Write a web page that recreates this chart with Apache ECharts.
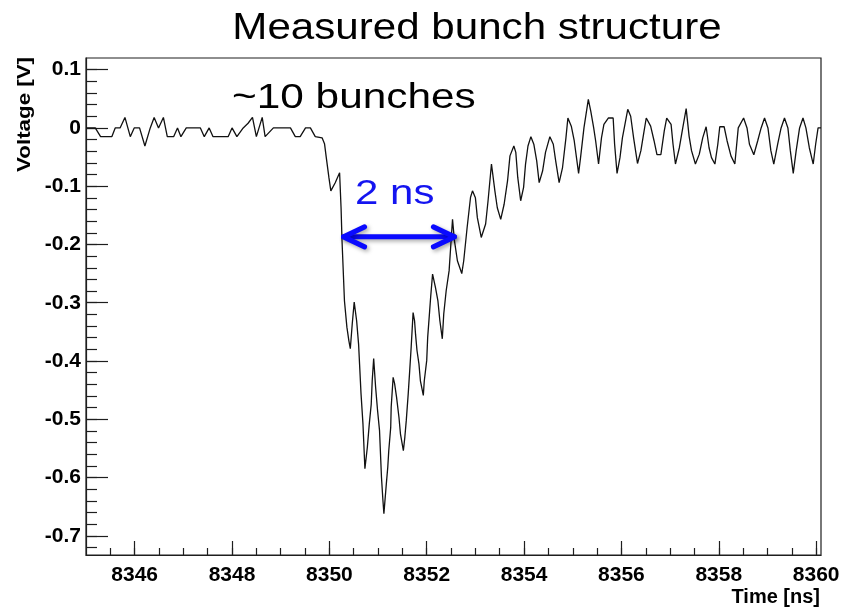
<!DOCTYPE html>
<html>
<head>
<meta charset="utf-8">
<script src="https://cdn.jsdelivr.net/npm/echarts@6/dist/echarts.min.js"></script>
<style>
  html, body { margin: 0; padding: 0; background: #ffffff; }
  #chart { width: 859px; height: 610px; }
</style>
</head>
<body>
<div id="chart"></div>
<script>
// Oscilloscope trace: sample times [ns] and measured voltage [V]
const times = [
  8345.01, 8345.19, 8345.30, 8345.53, 8345.60, 8345.70, 8345.80, 8345.91, 8345.99, 8346.10,
  8346.21, 8346.32, 8346.40, 8346.49, 8346.59, 8346.67, 8346.80, 8346.88, 8346.95, 8347.06,
  8347.35, 8347.43, 8347.53, 8347.61, 8347.92, 8348.00, 8348.10, 8348.23, 8348.33, 8348.42,
  8348.50, 8348.62, 8348.68, 8348.85, 8349.20, 8349.30, 8349.40, 8349.51, 8349.61, 8349.71,
  8349.85, 8349.90, 8349.94, 8349.99, 8350.03, 8350.12, 8350.21, 8350.24, 8350.26, 8350.31,
  8350.36, 8350.40, 8350.43, 8350.47, 8350.51, 8350.56, 8350.60, 8350.62, 8350.65, 8350.69,
  8350.73, 8350.78, 8350.82, 8350.86, 8350.88, 8350.91, 8350.95, 8350.99, 8351.03, 8351.05,
  8351.07, 8351.10, 8351.12, 8351.17, 8351.20, 8351.22, 8351.26, 8351.27, 8351.31, 8351.34,
  8351.38, 8351.43, 8351.46, 8351.52, 8351.55, 8351.58, 8351.62, 8351.65, 8351.68, 8351.72,
  8351.75, 8351.77, 8351.80, 8351.84, 8351.87, 8351.93, 8351.95, 8352.00, 8352.02, 8352.06,
  8352.08, 8352.12, 8352.18, 8352.23, 8352.27, 8352.32, 8352.35, 8352.40, 8352.46, 8352.50,
  8352.53, 8352.57, 8352.63, 8352.72, 8352.76, 8352.83, 8352.90, 8352.94, 8353.00, 8353.04,
  8353.12, 8353.21, 8353.26, 8353.33, 8353.40, 8353.45, 8353.52, 8353.59, 8353.66, 8353.71,
  8353.79, 8353.83, 8353.87, 8353.93, 8353.99, 8354.03, 8354.08, 8354.14, 8354.20, 8354.26,
  8354.31, 8354.38, 8354.44, 8354.53, 8354.60, 8354.65, 8354.72, 8354.79, 8354.86, 8354.90,
  8354.97, 8355.03, 8355.12, 8355.16, 8355.23, 8355.32, 8355.37, 8355.43, 8355.47, 8355.53,
  8355.59, 8355.64, 8355.73, 8355.83, 8355.86, 8355.91, 8355.97, 8356.02, 8356.13, 8356.19,
  8356.25, 8356.33, 8356.40, 8356.46, 8356.51, 8356.60, 8356.67, 8356.73, 8356.81, 8356.88,
  8356.93, 8357.02, 8357.06, 8357.11, 8357.19, 8357.26, 8357.33, 8357.39, 8357.44, 8357.52,
  8357.60, 8357.67, 8357.74, 8357.80, 8357.85, 8357.92, 8357.98, 8358.02, 8358.11, 8358.17,
  8358.25, 8358.33, 8358.40, 8358.51, 8358.58, 8358.63, 8358.72, 8358.80, 8358.87, 8358.94,
  8359.01, 8359.07, 8359.13, 8359.21, 8359.28, 8359.35, 8359.42, 8359.47, 8359.53, 8359.59,
  8359.66, 8359.73, 8359.79, 8359.86, 8359.94, 8359.99, 8360.04, 8360.10
];
const volts = [
   0.000,  0.000, -0.015, -0.015,  0.000,  0.000,  0.018, -0.015,  0.000,  0.000,
  -0.031,  0.000,  0.018,  0.000,  0.018, -0.015, -0.015,  0.000, -0.015,  0.000,
   0.000, -0.015,  0.000, -0.015, -0.015,  0.000, -0.015,  0.000,  0.008,  0.018,
  -0.015,  0.018, -0.015,  0.000,  0.000, -0.015, -0.015,  0.000,  0.000, -0.015,
  -0.017, -0.027, -0.053, -0.085, -0.108, -0.094, -0.077, -0.137, -0.194, -0.297,
  -0.342, -0.365, -0.379, -0.336, -0.299, -0.331, -0.371, -0.405, -0.456, -0.508,
  -0.585, -0.548, -0.508, -0.474, -0.434, -0.396, -0.445, -0.485, -0.519, -0.559,
  -0.599, -0.639, -0.662, -0.611, -0.582, -0.554, -0.514, -0.479, -0.428, -0.439,
  -0.462, -0.497, -0.525, -0.554, -0.531, -0.502, -0.456, -0.417, -0.377, -0.317,
  -0.331, -0.354, -0.382, -0.405, -0.434, -0.459, -0.434, -0.399, -0.359, -0.314,
  -0.291, -0.251, -0.274, -0.297, -0.331, -0.362, -0.319, -0.279, -0.245, -0.194,
  -0.157, -0.194, -0.228, -0.250, -0.228, -0.171, -0.119, -0.108, -0.120, -0.154,
  -0.188, -0.165, -0.125, -0.062, -0.108, -0.137, -0.157, -0.131, -0.091, -0.048,
  -0.031, -0.042, -0.085, -0.125, -0.102, -0.062, -0.031, -0.015, -0.028, -0.057,
  -0.094, -0.074, -0.042, -0.015, -0.028, -0.057, -0.094, -0.068, -0.017,  0.017,
   0.003, -0.022, -0.078, -0.051,  0.000,  0.049,  0.029,  0.000, -0.022, -0.062,
  -0.017,  0.006,  0.017,  0.017, -0.028, -0.078, -0.051, -0.017,  0.032,  0.020,
  -0.017, -0.061, -0.039, -0.008,  0.017,  0.003, -0.022, -0.046, -0.046, -0.005,
   0.017,  0.006, -0.028, -0.062, -0.034,  0.000,  0.033, -0.014, -0.039, -0.062,
  -0.045, -0.017,  0.002, -0.034, -0.051, -0.062, -0.028,  0.002,  0.002, -0.022,
  -0.048, -0.062,  0.000,  0.017,  0.000, -0.028, -0.046, -0.022,  0.000,  0.017,
   0.000, -0.039, -0.062, -0.028,  0.000,  0.017,  0.000, -0.039, -0.078, -0.039,
   0.000,  0.017,  0.000, -0.034, -0.062, -0.028,  0.000,  0.000
];

// Axis ticks and labels
const timeTicks = [8346, 8348, 8350, 8352, 8354, 8356, 8358, 8360];
const timeMinorTicks = [
  8345.5, 8346, 8346.5, 8347, 8347.5, 8348, 8348.5, 8349, 8349.5, 8350,
  8350.5, 8351, 8351.5, 8352, 8352.5, 8353, 8353.5, 8354, 8354.5, 8355,
  8355.5, 8356, 8356.5, 8357, 8357.5, 8358, 8358.5, 8359, 8359.5, 8360
];
const voltTicks = [0.1, 0, -0.1, -0.2, -0.3, -0.4, -0.5, -0.6, -0.7];
const voltTickLabels = ['0.1', '0', '-0.1', '-0.2', '-0.3', '-0.4', '-0.5', '-0.6', '-0.7'];
const voltMinorTicks = [];
for (let k = -36; k <= 5; k++) voltMinorTicks.push(Math.round(k * 2) / 100);

// Annotation: bunch-train width marker
const arrowTimes = [8350.23, 8352.63];
const arrowLevel = -0.187;

const timeRange = [8345, 8360.1];
const voltRange = [-0.733, 0.12];

const FRAME = '#1e1e1e';
const LABEL_FONT = 'Liberation Sans, Arial, Helvetica, sans-serif';

const chart = echarts.init(document.getElementById('chart'), null, { renderer: 'canvas' });

const axisBase = {
  type: 'value',
  splitLine: { show: false },
  axisLine: { show: false, onZero: false },
  axisPointer: { show: false }
};

const textItems = [
  {
    id: 'title', type: 'text', x: 477, y: 11, z: 10, scaleX: 1.17,
    style: { text: 'Measured bunch structure', fill: '#000', align: 'center',
             font: '36px "Liberation Sans", Arial, sans-serif' }
  },
  {
    id: 'bunch-count', type: 'text', x: 232, y: 81, z: 10, scaleX: 1.21,
    style: { text: '~10 bunches', fill: '#000', font: '35px "Liberation Sans", Arial, sans-serif' }
  },
  {
    id: 'width-label', type: 'text', x: 355, y: 177, z: 10, scaleX: 1.2,
    style: { text: '2 ns', fill: '#1414f0', font: '35px "Liberation Sans", Arial, sans-serif' }
  },
  {
    id: 'y-title', type: 'text', x: 25, y: 57, rotation: Math.PI / 2, scaleX: 1.24, z: 10,
    style: { text: 'Voltage [V]', fill: '#000', align: 'right', verticalAlign: 'middle',
             font: 'bold 18px "Liberation Sans", Arial, sans-serif' }
  },
  {
    id: 'x-title', type: 'text', x: 820, y: 597, z: 10,
    style: { text: 'Time [ns]', fill: '#000', align: 'right', verticalAlign: 'middle',
             font: 'bold 20px "Liberation Sans", Arial, sans-serif' }
  }
];

chart.setOption({
  animation: false,
  backgroundColor: '#ffffff',
  grid: {
    left: 86, right: 38, top: 58, bottom: 55,
    show: true, borderColor: FRAME, borderWidth: 1.2, backgroundColor: '#ffffff'
  },
  xAxis: [
    Object.assign({}, axisBase, {
      min: timeRange[0], max: timeRange[1], position: 'bottom',
      axisLine: { show: true, onZero: false, lineStyle: { color: FRAME, width: 1.2 } },
      axisTick: { show: true, inside: true, length: 7, customValues: timeMinorTicks, lineStyle: { color: FRAME, width: 1.2 } },
      axisLabel: { show: false }
    }),
    Object.assign({}, axisBase, {
      min: timeRange[0], max: timeRange[1], position: 'bottom',
      axisTick: { show: true, inside: true, length: 14, customValues: timeTicks, lineStyle: { color: FRAME, width: 1.2 } },
      axisLabel: {
        show: true, customValues: timeTicks, margin: 10,
        formatter: function (v) { return String(Math.round(v)); },
        color: '#000', fontFamily: LABEL_FONT, fontWeight: 'bold', fontSize: 21
      }
    })
  ],
  yAxis: [
    Object.assign({}, axisBase, {
      min: voltRange[0], max: voltRange[1], position: 'left',
      axisLine: { show: true, onZero: false, lineStyle: { color: FRAME, width: 1.2 } },
      axisTick: { show: true, inside: true, length: 11, customValues: voltMinorTicks, lineStyle: { color: FRAME, width: 1.2 } },
      axisLabel: { show: false }
    }),
    Object.assign({}, axisBase, {
      min: voltRange[0], max: voltRange[1], position: 'left',
      axisTick: { show: true, inside: true, length: 22, customValues: voltTicks, lineStyle: { color: FRAME, width: 1.2 } },
      axisLabel: {
        show: true, customValues: voltTicks, margin: 5,
        formatter: function (v) {
          const i = voltTicks.findIndex(function (t) { return Math.abs(t - v) < 1e-6; });
          return i >= 0 ? voltTickLabels[i] : '';
        },
        color: '#000', fontFamily: LABEL_FONT, fontWeight: 'bold', fontSize: 21
      }
    })
  ],
  series: [{
    type: 'line',
    xAxisIndex: 0, yAxisIndex: 0,
    data: times.map(function (t, i) { return [t, volts[i]]; }),
    showSymbol: false, symbol: 'none',
    lineStyle: { color: '#111111', width: 1.3 },
    z: 3
  }],
  graphic: textItems
});

// Double-headed arrow placed through the grid's coordinate system
function drawArrow() {
  const a = chart.convertToPixel({ gridIndex: 0 }, [arrowTimes[0], arrowLevel]);
  const b = chart.convertToPixel({ gridIndex: 0 }, [arrowTimes[1], arrowLevel]);
  const head = 21, half = 10, inset = 3;
  const arrowStyle = {
    stroke: '#0a0aff', lineWidth: 5, fill: null, lineCap: 'round', lineJoin: 'round',
    shadowBlur: 4, shadowOffsetX: 2, shadowOffsetY: 2, shadowColor: 'rgba(0,0,0,0.35)'
  };
  chart.setOption({
    graphic: textItems.concat([
      { id: 'arrow-shaft', type: 'line', z: 12,
        shape: { x1: a[0] + inset, y1: a[1], x2: b[0] - inset, y2: b[1] }, style: arrowStyle },
      { id: 'arrow-left', type: 'polyline', z: 12,
        shape: { points: [[a[0] + inset + head, a[1] - half], [a[0] + inset, a[1]], [a[0] + inset + head, a[1] + half]] }, style: arrowStyle },
      { id: 'arrow-right', type: 'polyline', z: 12,
        shape: { points: [[b[0] - inset - head, b[1] - half], [b[0] - inset, b[1]], [b[0] - inset - head, b[1] + half]] }, style: arrowStyle }
    ])
  });
}
drawArrow();
</script>
</body>
</html>
